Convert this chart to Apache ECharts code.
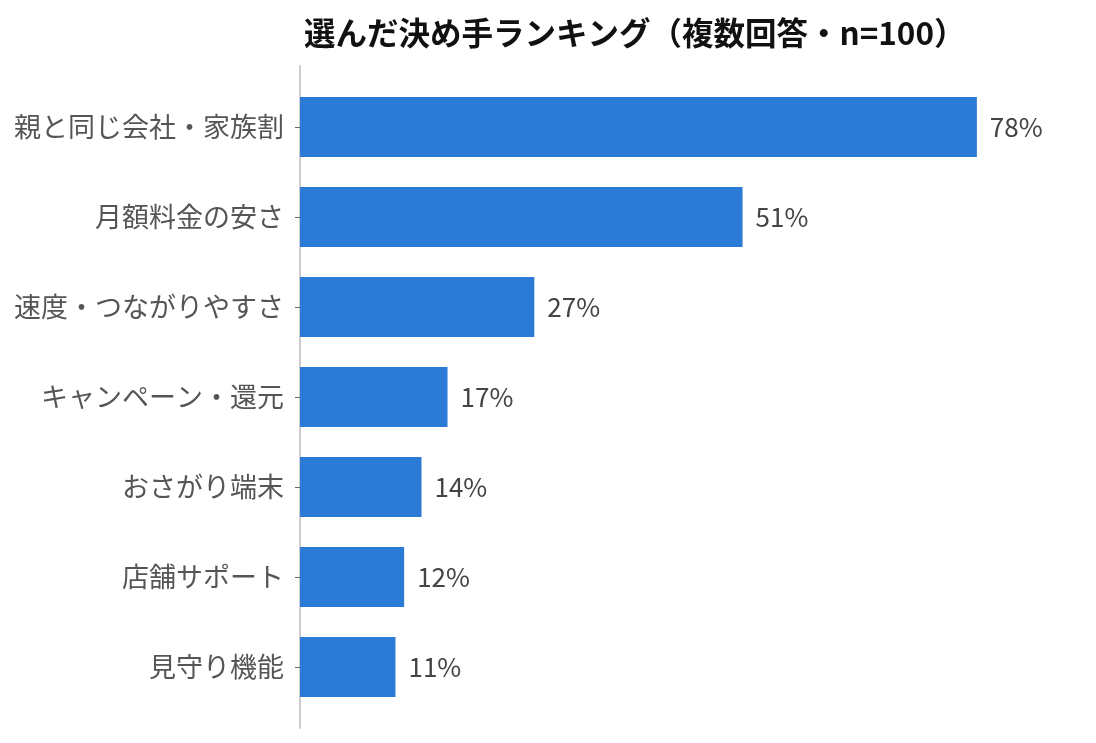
<!DOCTYPE html>
<html>
<head>
<meta charset="utf-8">
<script src="https://cdn.jsdelivr.net/npm/echarts@6/dist/echarts.min.js"></script>
<style>
  html, body { margin: 0; padding: 0; background: #fff; }
  #chart { width: 1096px; height: 743px; }
</style>
</head>
<body>
<div id="chart"></div>
<script>
// 選んだ決め手ランキング（複数回答・n=100）
const categories = ['親と同じ会社・家族割', '月額料金の安さ', '速度・つながりやすさ', 'キャンペーン・還元', 'おさがり端末', '店舗サポート', '見守り機能']
const shares = [78, 51, 27, 17, 14, 12, 11]

const FONT = '"Noto Sans CJK JP", "Noto Sans", sans-serif'
const BAR_COLOR = '#2a7ad6'

const chart = echarts.init(document.getElementById('chart'))
chart.setOption({
  backgroundColor: '#fff',
  animation: false,
  title: {
    text: '選んだ決め手ランキング（複数回答・n=100）',
    left: 299,
    top: 12,
    textStyle: { fontFamily: FONT, fontSize: 31.5, fontWeight: 'bold', color: '#111' },
  },
  grid: [
    // bars
    { left: 300, top: 82, height: 630, width: 781 },
    // only for the long vertical axis line
    { left: 300, top: 66, bottom: 15, width: 781 },
  ],
  xAxis: [
    { gridIndex: 0, type: 'value', min: 0, max: 90, show: false },
    { gridIndex: 1, type: 'value', min: 0, max: 90, show: false },
  ],
  yAxis: [
    {
      gridIndex: 0,
      type: 'category',
      data: categories,
      inverse: true,
      axisLine: { show: false },
      axisTick: { show: true, alignWithLabel: true, length: 5, lineStyle: { color: '#666' } },
      axisLabel: { margin: 16, fontFamily: FONT, fontSize: 27, color: '#555' },
    },
    {
      gridIndex: 1,
      type: 'value',
      axisLine: { show: true, lineStyle: { color: '#ccc', width: 2 } },
      axisTick: { show: false },
      axisLabel: { show: false },
      splitLine: { show: false },
    },
  ],
  series: [{
    type: 'bar',
    xAxisIndex: 0,
    yAxisIndex: 0,
    data: shares,
    barWidth: 60,
    itemStyle: { color: BAR_COLOR },
    label: {
      show: true,
      position: 'right',
      distance: 13,
      formatter: p => p.value + '%',
      fontFamily: FONT,
      fontSize: 26,
      color: '#444',
    },
  }],
})
</script>
</body>
</html>
